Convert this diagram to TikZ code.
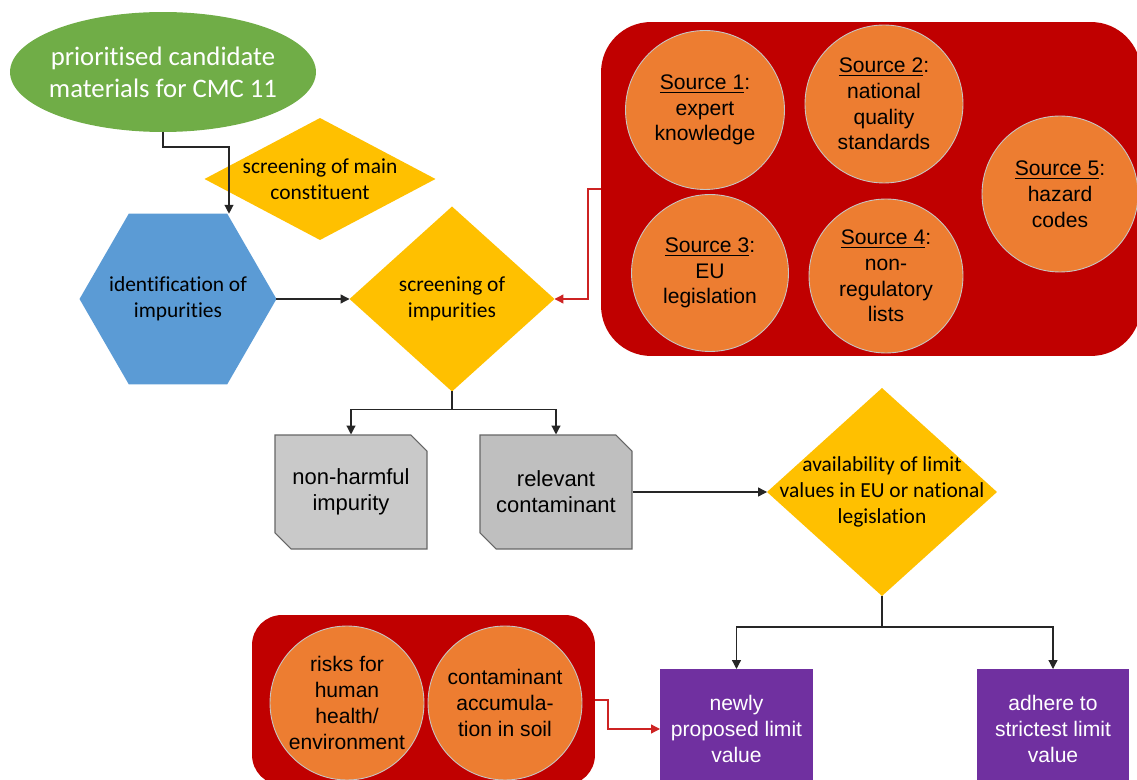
\documentclass[tikz,border=0pt]{standalone}
\usepackage{fontspec}
\setmainfont{Liberation Sans}
\newfontfamily\calibriFont[Ligatures=NoCommon]{Carlito}
\usepackage{tikz}
\usetikzlibrary{shapes.geometric, shapes.misc, arrows.meta, calc}
\definecolor{startColor}{RGB}{112, 173, 71}
\definecolor{decisionColor}{RGB}{255, 192, 0}
\definecolor{processColor}{RGB}{91, 155, 213}
\definecolor{sourceBg}{RGB}{192, 0, 0}
\definecolor{sourceColor}{RGB}{237, 125, 49}
\definecolor{resultColor}{RGB}{112, 48, 160}
\definecolor{boxGray}{RGB}{201, 201, 201}
\definecolor{boxGrayDark}{RGB}{191, 191, 191}
\definecolor{linkRed}{RGB}{205, 35, 35}

\begin{document}
\begin{tikzpicture}[x=0.02cm, y=-0.02cm, font=\fontsize{12}{14.7}\selectfont,
    conn/.style={draw=black!85, line width=0.7pt, -{Triangle[length=5pt, width=5pt]}},
    redConn/.style={draw=linkRed, line width=0.7pt, -{Triangle[length=5pt, width=5pt]}},
    calText/.style={align=center, font=\calibriFont\fontsize{12.2}{14.7}\selectfont},
    arialText/.style={align=center, font=\fontsize{12}{14.7}\selectfont},
    startNode/.style={ellipse, fill=startColor, inner sep=0pt, outer sep=0pt},
    decision/.style={diamond, fill=decisionColor, inner sep=0pt, outer sep=0pt},
    hexNode/.style={regular polygon, regular polygon sides=6, fill=processColor, inner sep=0pt, outer sep=0pt},
    grayBox/.style={chamfered rectangle, chamfered rectangle corners={north east, south west},
        chamfered rectangle xsep=0.16cm, chamfered rectangle ysep=0.16cm, draw=black!60, line width=0.6pt,
        minimum width=3.04cm, minimum height=2.28cm, inner sep=0pt, align=center,
        font=\fontsize{12.5}{14.9}\selectfont},
    container/.style={rectangle, fill=sourceBg, inner sep=0pt, outer sep=0pt},
    sourceNode/.style={circle, fill=sourceColor, draw=gray!45, line width=0.5pt, inner sep=0pt, outer sep=0pt},
    resultBox/.style={rectangle, fill=resultColor, text=white, minimum width=3.06cm, minimum height=2.4cm,
        inner sep=0pt, outer sep=0pt, align=center}]

    % Page frame
    \path[use as bounding box, clip] (0, 0) rectangle (1137, 780);

    % Start and first screening
    \node[startNode, minimum width=6.12cm, minimum height=2.4cm,
        label={[calText, text=white, font=\calibriFont\fontsize{15.2}{18.1}\selectfont]center:{prioritised candidate\\materials for CMC 11}}]
        (prio) at (163, 72) {};
    \node[decision, minimum width=4.62cm, minimum height=2.44cm,
        label={[calText]center:{screening of main\\constituent}}] (mainScreen) at (320, 179) {};
    \node[hexNode, minimum size=3.94cm,
        label={[calText]center:{identification of\\impurities}}] (ident) at (178, 299) {};
    \node[decision, minimum width=4.1cm, minimum height=3.7cm,
        label={[calText]center:{screening of\\impurities}}] (impScreen) at (452, 299) {};

    % Sources
    \node[container, rounded corners=1cm, minimum width=10.8cm, minimum height=6.68cm] (srcBox) at (871, 189) {};
    \node[sourceNode, minimum size=3.18cm, label={[arialText]center:{\underline{Source 1}:\\expert\\knowledge}}] (src1) at (705, 110) {};
    \node[sourceNode, minimum size=3.16cm, label={[arialText]center:{\underline{Source 2}:\\national\\quality\\standards}}] (src2) at (884, 104) {};
    \node[sourceNode, minimum size=3.14cm, label={[arialText]center:{\underline{Source 3}:\\EU\\legislation}}] (src3) at (710, 273) {};
    \node[sourceNode, minimum size=3.08cm, label={[arialText]center:{\underline{Source 4}:\\non-\\regulatory\\lists}}] (src4) at (886, 276) {};
    \node[sourceNode, minimum size=3.12cm, label={[arialText]center:{\underline{Source 5}:\\hazard\\codes}}] (src5) at (1060, 194) {};

    % Impurity classes
    \node[grayBox, fill=boxGray] (harmless) at (351, 492) {non-harmful\\impurity};
    \node[grayBox, fill=boxGrayDark] (relevant) at (556, 492) {relevant\\contaminant};
    \node[decision, minimum width=4.6cm, minimum height=4.16cm,
        label={[calText]center:{availability of limit\\values in EU or national\\legislation}}] (avail) at (882, 492) {};

    % Limit values
    \node[container, rounded corners=0.6cm, minimum width=6.86cm, minimum height=3.4cm] (riskBox) at (423.5, 700) {};
    \node[sourceNode, minimum size=3.08cm, label={[arialText]center:{risks for\\human\\health/\\environment}}] (risk) at (347, 703) {};
    \node[sourceNode, minimum size=3.08cm, label={[arialText]center:{contaminant\\accumula-\\tion in soil}}] (accum) at (505, 703) {};
    \node[resultBox] (newLimit) at (736.5, 729) {newly\\proposed limit\\value};
    \node[resultBox] (strictLimit) at (1053, 729) {adhere to\\strictest limit\\value};

    % Connectors
    \draw[conn] (prio.south) -- ++(0, 15) -| ($(ident.north) + (51, 0)$);
    \draw[conn] (ident.east) -- (impScreen.west);
    \draw[redConn] (srcBox.west) -- ++(-13, 0) |- (impScreen.east);
    \draw[conn] (impScreen.south) -- ++(0, 18) -| (harmless.north);
    \draw[conn] (impScreen.south) -- ++(0, 18) -| (relevant.north);
    \draw[conn] (relevant.east) -- (avail.west);
    \draw[conn] (avail.south) -- ++(0, 31) -| (newLimit.north);
    \draw[conn] (avail.south) -- ++(0, 31) -| (strictLimit.north);
    \draw[redConn] (riskBox.east) -- ++(13, 0) |- (newLimit.west);
\end{tikzpicture}
\end{document}
